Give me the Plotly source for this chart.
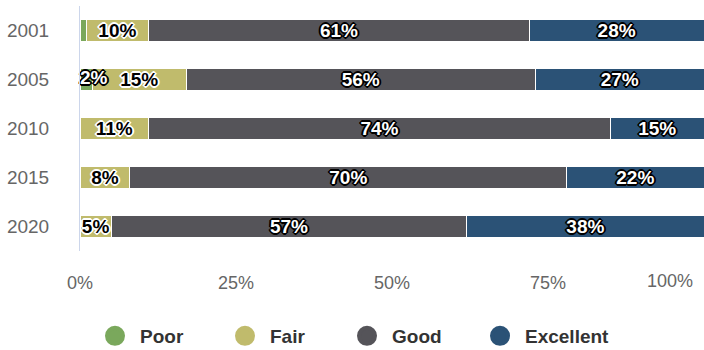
import plotly.graph_objects as go

# Share of ratings per survey year (percent)
years = ["2001", "2005", "2010", "2015", "2020"]
poor = [1, 2, 0, 0, 0]
fair = [10, 15, 11, 8, 5]
good = [61, 56, 74, 70, 57]
excellent = [28, 27, 15, 22, 38]

x_ticks = [0, 25, 50, 75, 100]
x_tick_labels = ["0%", "25%", "50%", "75%", "100%"]

FONT = "Liberation Sans, Arial, Helvetica, sans-serif"
W, H = 704, 350
LABEL_SIZE = 19


def outline(c):
    offs = [(-1, -1), (1, -1), (-1, 1), (1, 1), (0, 1), (0, -1), (1, 0), (-1, 0),
            (0, 2), (0, -2), (2, 0), (-2, 0)]
    return ", ".join(f"{dx}px {dy}px 0 {c}" for dx, dy in offs)


DARK_OUTLINE = outline("#000")
LIGHT_OUTLINE = outline("#fff")


def pct_labels(values):
    # small slivers (under 2%) are left unlabeled
    return [f"{v}%" if v >= 2 else "" for v in values]


series = [
    ("Poor", poor, "#7aa85c", "#ffffff", DARK_OUTLINE),
    ("Fair", fair, "#c0bb6c", "#000000", LIGHT_OUTLINE),
    ("Good", good, "#555459", "#ffffff", DARK_OUTLINE),
    ("Excellent", excellent, "#2b5276", "#ffffff", DARK_OUTLINE),
]

fig = go.Figure()

for name, values, color, txt_color, shadow in series:
    in_bar = name != "Poor"
    fig.add_trace(go.Bar(
        y=years,
        x=values,
        orientation="h",
        name=name,
        marker=dict(color=color, line=dict(color="#ffffff", width=1)),
        text=pct_labels(values) if in_bar else None,
        textposition="inside" if in_bar else "none",
        insidetextanchor="middle",
        textangle=0,
        textfont=dict(family=FONT, size=LABEL_SIZE, color=txt_color, weight="bold", shadow=shadow),
        showlegend=False,
        hoverinfo="skip",
    ))

# Poor labels sit on top of the stack, starting at the left edge of the bar
fig.add_trace(go.Scatter(
    x=[0] * len(years),
    y=years,
    mode="text",
    text=pct_labels(poor),
    textposition="middle right",
    textfont=dict(family=FONT, size=LABEL_SIZE, color="#ffffff", weight="bold", shadow=DARK_OUTLINE),
    showlegend=False,
    hoverinfo="skip",
    cliponaxis=False,
))

# One single-entry legend per rating, laid out in a row under the axis
legend_left_px = [90, 220, 342, 475]
legend_ids = ["legend", "legend2", "legend3", "legend4"]
legend_layouts = {}
for (name, values, color, _, _), lid, left in zip(series, legend_ids, legend_left_px):
    fig.add_trace(go.Scatter(
        x=[None], y=[None],
        mode="markers",
        name=name,
        legend=lid,
        marker=dict(symbol="circle", size=16, color=color, line=dict(color=color, width=4)),
        showlegend=True,
    ))
    legend_layouts[lid] = dict(
        orientation="h",
        xref="container",
        yref="container",
        x=left / W,
        xanchor="left",
        y=0.04,
        yanchor="middle",
        font=dict(size=19, color="#333333", family=FONT, weight="bold"),
        itemsizing="trace",
        itemwidth=40,
        bgcolor="rgba(0,0,0,0)",
    )

fig.update_layout(
    width=W,
    height=H,
    margin=dict(l=80, r=0, t=6, b=99),
    barmode="stack",
    bargap=0.55,
    plot_bgcolor="#ffffff",
    paper_bgcolor="#ffffff",
    font=dict(family=FONT),
    uniformtext=dict(minsize=LABEL_SIZE, mode="show"),
    xaxis=dict(
        range=[0, 100],
        tickvals=x_ticks[:-1],
        ticktext=x_tick_labels[:-1],
        tickfont=dict(size=18, color="#666666", family=FONT),
        showgrid=False,
        zeroline=False,
        showline=False,
        ticks="",
        ticklabelstandoff=19,
    ),
    yaxis=dict(
        type="category",
        categoryorder="array",
        categoryarray=years,
        range=[4.5, -0.5],
        tickfont=dict(size=19, color="#666666", family=FONT),
        showgrid=False,
        zeroline=False,
        showline=True,
        linecolor="#ccd6eb",
        linewidth=1,
        ticks="",
        ticklabelstandoff=26,
    ),
    annotations=[dict(
        x=x_ticks[-1], xref="x",
        y=-0.122, yref="paper",
        text=x_tick_labels[-1],
        showarrow=False,
        xanchor="right",
        yanchor="middle",
        xshift=-9,
        font=dict(size=18, color="#666666", family=FONT),
    )],
    **legend_layouts,
)

fig.write_html("out.html")
